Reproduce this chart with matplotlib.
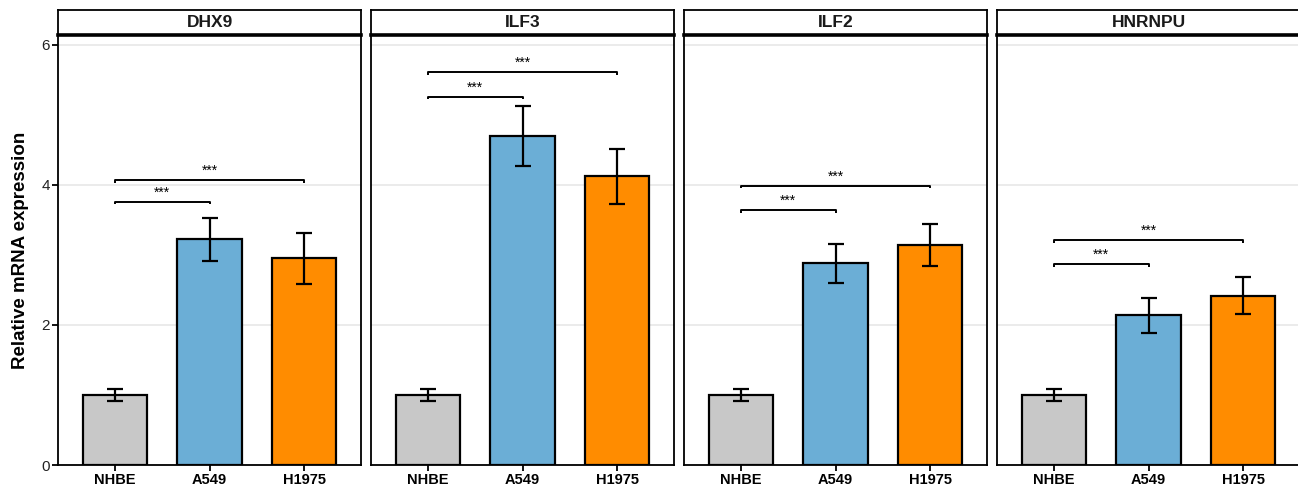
import matplotlib
matplotlib.use("Agg")
import matplotlib.pyplot as plt
import numpy as np

plt.rcParams['font.family'] = ['Liberation Sans', 'DejaVu Sans']

genes = ["DHX9", "ILF3", "ILF2", "HNRNPU"]
cells = ["NHBE", "A549", "H1975"]
means = {
    "DHX9":   [1.00, 3.22, 2.95],
    "ILF3":   [1.00, 4.70, 4.12],
    "ILF2":   [1.00, 2.88, 3.14],
    "HNRNPU": [1.00, 2.14, 2.42],
}
errs = {
    "DHX9":   [0.08, 0.30, 0.36],
    "ILF3":   [0.08, 0.43, 0.39],
    "ILF2":   [0.08, 0.28, 0.30],
    "HNRNPU": [0.08, 0.25, 0.27],
}
# significance bracket heights: (NHBE vs A549, NHBE vs H1975)
brackets = {
    "DHX9":   [3.76, 4.07],
    "ILF3":   [5.26, 5.61],
    "ILF2":   [3.64, 3.99],
    "HNRNPU": [2.87, 3.21],
}
sig_labels = ["***", "***"]
colors = ["#C8C8C8", "#6BAED6", "#FF8C00"]
yticks = [0, 2, 4, 6]

W, H = 1298, 490
fig = plt.figure(figsize=(W / 100, H / 100), dpi=100)

left0 = 58
pw = 303
gap = 10
ax_top = 35
ax_bot = 465
strip_top = 10

x = np.arange(1, 4)
for i, g in enumerate(genes):
    lx = left0 + i * (pw + gap)
    ax = fig.add_axes([lx / W, (H - ax_bot) / H, pw / W, (ax_bot - ax_top) / H])
    ax.set_xlim(0.4, 3.6)
    ax.set_ylim(0, 6.14)
    for yv in yticks:
        ax.axhline(yv, color="#E5E5E5", lw=1.1, zorder=0)
    ax.bar(x, means[g], width=0.68, color=colors, edgecolor="black", linewidth=1.6, zorder=2)
    ax.errorbar(x, means[g], yerr=errs[g], fmt="none", ecolor="black", elinewidth=1.6,
                capsize=6, capthick=1.6, zorder=3)
    tip = 0.04
    for j, (target, yb) in enumerate(zip([2, 3], brackets[g])):
        ax.plot([1, 1, target, target], [yb - tip, yb, yb, yb - tip], color="black", lw=1.4,
                zorder=3, solid_capstyle="butt")
        ax.text((1 + target) / 2, yb + 0.03, sig_labels[j], ha="center", va="bottom", fontsize=10,
                zorder=4)
    ax.set_xticks(x)
    ax.set_xticklabels(cells, fontweight="bold", fontsize=10.5)
    ax.set_yticks(yticks)
    ax.tick_params(axis="both", width=1.3, length=4, color="black", pad=2)
    if i == 0:
        ax.set_yticklabels([str(v) for v in yticks], fontsize=11, color="#222222")
        ax.set_ylabel("Relative mRNA expression", fontsize=13.5, fontweight="bold", labelpad=9)
    else:
        ax.tick_params(axis="y", length=0, labelleft=False)
    for s in ax.spines.values():
        s.set_linewidth(1.3)
        s.set_color("black")

    sax = fig.add_axes([lx / W, (H - ax_top) / H, pw / W, (ax_top - strip_top) / H])
    sax.set_xticks([])
    sax.set_yticks([])
    for s in sax.spines.values():
        s.set_linewidth(1.3)
    sax.spines["bottom"].set_linewidth(2.6)
    sax.text(0.5, 0.5, g, ha="center", va="center", fontsize=12.5, fontweight="bold",
             color="#1A1A1A", transform=sax.transAxes)

fig.savefig("out.png", dpi=100)
